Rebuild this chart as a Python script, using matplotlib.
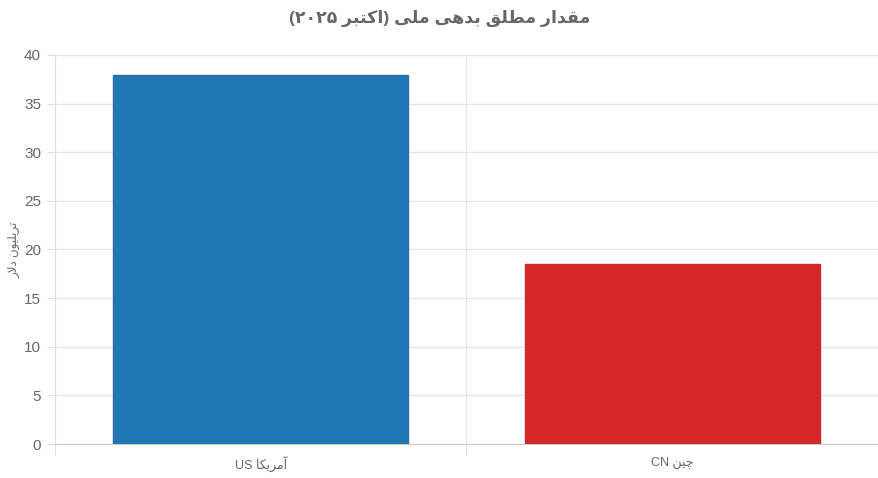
import numpy as np
import matplotlib
matplotlib.use("Agg")
import matplotlib.pyplot as plt

# ---- données ----
title = "مقدار مطلق بدهی ملی (اکتبر ۲۰۲۵)"
y_label = "تریلیون دلار"
countries = ["آمریکا US", "چین CN"]
debt = [37.9, 18.5]
bar_colors = ["#1f77b4", "#d62728"]
edge_colors = ["#2a6fa8", "#c92a2a"]
y_ticks = [0, 5, 10, 15, 20, 25, 30, 35, 40]

# formes de présentation arabes : (isolé, final, initial, médian)
FORMS = {
    "\u0627": ("\uFE8D", "\uFE8E", None, None),
    "\u0622": ("\uFE81", "\uFE82", None, None),
    "\u0628": ("\uFE8F", "\uFE90", "\uFE91", "\uFE92"),
    "\u062A": ("\uFE95", "\uFE96", "\uFE97", "\uFE98"),
    "\u062C": ("\uFE9D", "\uFE9E", "\uFE9F", "\uFEA0"),
    "\u062F": ("\uFEA9", "\uFEAA", None, None),
    "\u0631": ("\uFEAD", "\uFEAE", None, None),
    "\u0637": ("\uFEC1", "\uFEC2", "\uFEC3", "\uFEC4"),
    "\u0642": ("\uFED5", "\uFED6", "\uFED7", "\uFED8"),
    "\u0644": ("\uFEDD", "\uFEDE", "\uFEDF", "\uFEE0"),
    "\u0645": ("\uFEE1", "\uFEE2", "\uFEE3", "\uFEE4"),
    "\u0646": ("\uFEE5", "\uFEE6", "\uFEE7", "\uFEE8"),
    "\u0647": ("\uFEE9", "\uFEEA", "\uFEEB", "\uFEEC"),
    "\u0648": ("\uFEED", "\uFEEE", None, None),
    "\u06CC": ("\uFBFC", "\uFBFD", "\uFBFE", "\uFBFF"),
    "\u06A9": ("\uFB8E", "\uFB8F", "\uFB90", "\uFB91"),
    "\u0686": ("\uFB7A", "\uFB7B", "\uFB7C", "\uFB7D"),
}
MIRROR = {"(": ")", ")": "("}


def is_rtl(c):
    return "\u0600" <= c <= "\u06EF" or "\uFB50" <= c <= "\uFEFF"


def is_ltr(c):
    return c.isalnum() and not is_rtl(c)


def shape(txt):
    out = []
    n = len(txt)
    i = 0
    while i < n:
        c = txt[i]
        if c not in FORMS:
            out.append(c)
            i += 1
            continue
        prev = txt[i - 1] if i > 0 else ""
        joins_prev = prev in FORMS and FORMS[prev][2] is not None
        # lam + alef
        if c == "\u0644" and i + 1 < n and txt[i + 1] == "\u0627":
            out.append("\uFEFC" if joins_prev else "\uFEFB")
            i += 2
            continue
        nxt = txt[i + 1] if i + 1 < n else ""
        joins_next = nxt in FORMS and FORMS[c][2] is not None
        iso, fin, ini, med = FORMS[c]
        if joins_prev and joins_next:
            out.append(med)
        elif joins_prev:
            out.append(fin)
        elif joins_next:
            out.append(ini)
        else:
            out.append(iso)
        i += 1
    return "".join(out)


def visual(txt):
    s = shape(txt)
    kinds = []
    for c in s:
        kinds.append("R" if is_rtl(c) and not ("\u06F0" <= c <= "\u06F9")
                     else ("L" if is_ltr(c) or "\u06F0" <= c <= "\u06F9" else "N"))
    for i, k in enumerate(kinds):
        if k == "N":
            left = next((kinds[j] for j in range(i - 1, -1, -1) if kinds[j] != "N"), "R")
            right = next((kinds[j] for j in range(i + 1, len(s)) if kinds[j] != "N"), "R")
            kinds[i] = left if left == right else "R"
    runs = []
    for c, k in zip(s, kinds):
        if runs and runs[-1][0] == k:
            runs[-1][1].append(c)
        else:
            runs.append([k, [c]])
    res = ""
    for k, chars in reversed(runs):
        if k == "R":
            res += "".join(MIRROR.get(c, c) for c in reversed(chars))
        else:
            res += "".join(chars)
    return res


plt.rcParams["font.family"] = ["Liberation Sans", "DejaVu Sans"]

fig = plt.figure(figsize=(8.79, 4.78), dpi=100)
ax = fig.add_axes([55 / 879, 1 - 444 / 478, 823 / 879, 389 / 478])

x = np.arange(len(countries))
ax.bar(x, debt, width=0.716, color=bar_colors, edgecolor=edge_colors,
       linewidth=1, zorder=3)

ax.set_xlim(-0.5, len(countries) - 0.5)
ax.set_ylim(0, 40)
ax.set_yticks(y_ticks)
ax.set_yticklabels([str(v) for v in y_ticks])
ax.set_xticks(x)
ax.set_xticklabels([visual(c) for c in countries])
ax.set_xticks(np.arange(-0.5, len(countries) - 1, 1.0), minor=True)

ax.grid(axis="y", color="#e6e6e6", linewidth=1, zorder=0)
ax.grid(axis="x", which="minor", color="#e6e6e6", linewidth=1, zorder=0)
ax.tick_params(axis="x", which="major", length=0, pad=9, labelsize=9,
               labelcolor="#666666")
ax.tick_params(axis="x", which="minor", length=8, color="#dddddd")
ax.tick_params(axis="y", length=6, color="#dddddd", pad=4, labelsize=11,
               labelcolor="#666666")

for side in ["top", "right"]:
    ax.spines[side].set_visible(False)
ax.spines["left"].set_color("#dddddd")
ax.spines["bottom"].set_color("#cccccc")

ax.set_ylabel(visual(y_label), fontsize=8.5, color="#666666", labelpad=3)
fig.text(0.5, 1 - 18 / 478, visual(title), ha="center", va="center",
         fontsize=12.5, fontweight="bold", color="#666666")

fig.savefig("out.png", dpi=100)
